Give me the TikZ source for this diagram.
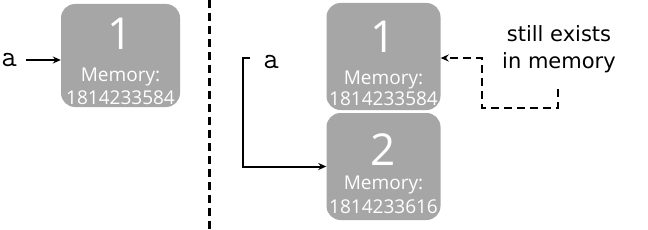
\documentclass[tikz,border=0pt]{standalone}
\usepackage{fontspec}
\setmainfont{Open Sans}
\newfontfamily\annfont{DejaVu Sans}
\usetikzlibrary{arrows.meta}
\definecolor{boxgray}{HTML}{A6A6A6}
\begin{document}
\begin{tikzpicture}[x=1pt,y=-1pt,
  membox/.style={fill=boxgray, rounded corners=14pt, inner sep=0pt, draw=none},
  bignum/.style={text=white, font=\fontsize{44}{44}\selectfont, inner sep=0pt},
  memtxt/.style={text=white, font=\fontsize{19}{19}\selectfont, inner sep=0pt},
  varname/.style={font=\ttfamily\fontsize{30}{30}\selectfont, inner sep=0pt},
  conn/.style={line width=2pt, -{Stealth[length=8pt,width=7pt]}},
  dconn/.style={line width=2.2pt, dash pattern=on 8pt off 5pt, -{Stealth[length=8pt,width=7pt]}},
  sepline/.style={line width=3pt, dash pattern=on 8pt off 5pt},
  annot/.style={font=\annfont\fontsize{21}{27}\selectfont, align=center, inner sep=0pt}]
\useasboundingbox (0,0) rectangle (648,230);
% left part
\node[membox, minimum width=119pt, minimum height=103pt] (L) at (120.5,55.5) {};
\node[bignum] (L1) at (120.5,34) {1};
\node[memtxt] (L2) at (120.5,77) {Memory:};
\node[memtxt] (L3) at (120.5,98) {1814233584};
\node[varname] (a1) at (9,60) {a};
\draw[conn, shorten <=9pt] (a1.east) -- (a1.east -| L.west);
% separator
\coordinate (s0) at (209,0);
\coordinate (s1) at (209,230);
\draw[sepline] (s0) -- (s1);
% right part
\node[membox, minimum width=114pt, minimum height=107pt] (R1) at (383.5,56.5) {};
\node[bignum] (R11) at (383.5,37) {1};
\node[memtxt] (R12) at (383.5,80) {Memory:};
\node[memtxt] (R13) at (383.5,99) {1814233584};
\node[membox, minimum width=114pt, minimum height=107pt] (R2) at (383.5,166.5) {};
\node[bignum] (R21) at (383.5,150) {2};
\node[memtxt] (R22) at (383.5,185) {Memory:};
\node[memtxt] (R23) at (383.5,207) {1814233616};
\node[varname] (a2) at (271,62) {a};
\coordinate (b0) at (250,58);
\coordinate (b1) at (243,58);
\draw[conn] (b0) -- (b1) |- (R2.west);
% annotation
\node[annot] (note) at (559,49) {still exists\\in memory};
\coordinate (d0) at (558,89);
\coordinate (d1) at (482,108);
\coordinate (d2) at (482,58);
\draw[dconn] (d0) |- (d1) -- (d2) -- (d2 -| R1.east);
\end{tikzpicture}
\end{document}
